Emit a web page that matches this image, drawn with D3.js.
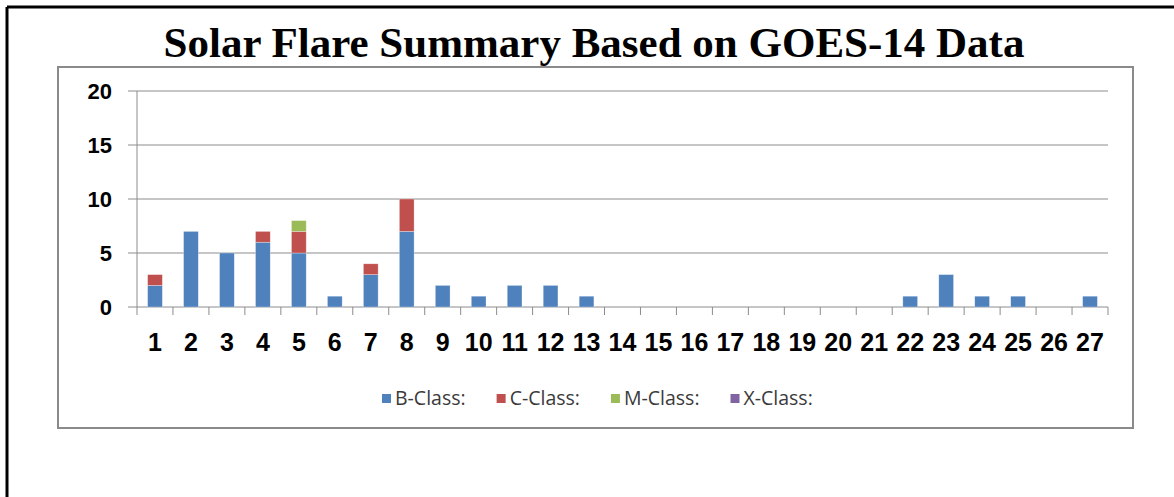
<!DOCTYPE html>
<html>
<head>
<meta charset="utf-8">
<script src="https://cdn.jsdelivr.net/npm/d3@7"></script>
<style>
  html, body { margin: 0; padding: 0; background: #fff; }
  svg { display: block; }
</style>
</head>
<body>
<svg id="chart" width="1174" height="497"></svg>
<script>
const categories = ["1","2","3","4","5","6","7","8","9","10","11","12","13","14","15","16","17","18","19","20","21","22","23","24","25","26","27"];
const bClass = [2,7,5,6,5,1,3,7,2,1,2,2,1,0,0,0,0,0,0,0,0,1,3,1,1,0,1];
const cClass = [1,0,0,1,2,0,1,3,0,0,0,0,0,0,0,0,0,0,0,0,0,0,0,0,0,0,0];
const mClass = [0,0,0,0,1,0,0,0,0,0,0,0,0,0,0,0,0,0,0,0,0,0,0,0,0,0,0];
const xClass = [0,0,0,0,0,0,0,0,0,0,0,0,0,0,0,0,0,0,0,0,0,0,0,0,0,0,0];
const seriesNames = ["B-Class:", "C-Class:", "M-Class:", "X-Class:"];
const seriesColors = ["#4F81BD", "#C0504D", "#9BBB59", "#8064A2"];
const yTicks = [0, 5, 10, 15, 20];
const title = "Solar Flare Summary Based on GOES-14 Data";

const svg = d3.select("#chart");

// outer black frame (left and top)
svg.append("line").attr("x1", 7).attr("y1", 7).attr("x2", 1174).attr("y2", 7)
  .attr("stroke", "#000").attr("stroke-width", 3);
svg.append("line").attr("x1", 7).attr("y1", 7).attr("x2", 7).attr("y2", 497)
  .attr("stroke", "#000").attr("stroke-width", 3);

// title
svg.append("text")
  .attr("x", 594).attr("y", 57)
  .attr("text-anchor", "middle")
  .attr("font-family", "'Liberation Serif', 'Times New Roman', serif")
  .attr("font-weight", "bold")
  .attr("font-size", 43)
  .attr("fill", "#000")
  .text(title);

// chart box
svg.append("rect").attr("x", 58).attr("y", 67).attr("width", 1075).attr("height", 361)
  .attr("fill", "#fff").attr("stroke", "#8a8a8a").attr("stroke-width", 2);

const x = d3.scaleBand().domain(categories).range([137, 1108]).padding(0);
const y = d3.scaleLinear().domain([0, 20]).range([307, 91]);

// gridlines with left tick stubs
svg.append("g").selectAll("line").data(yTicks).join("line")
  .attr("x1", 128).attr("x2", 1108)
  .attr("y1", d => y(d)).attr("y2", d => y(d))
  .attr("stroke", "#8c8c8c").attr("stroke-width", 1);

// y axis line
svg.append("line").attr("x1", 137).attr("x2", 137).attr("y1", y(20)).attr("y2", y(0))
  .attr("stroke", "#8c8c8c").attr("stroke-width", 1);

// y labels
svg.append("g").selectAll("text").data(yTicks).join("text")
  .attr("x", 112).attr("y", d => y(d))
  .attr("dy", "0.36em")
  .attr("text-anchor", "end")
  .attr("font-family", "'Liberation Sans', Arial, sans-serif")
  .attr("font-weight", "bold")
  .attr("font-size", 22)
  .attr("fill", "#000")
  .text(d => d);

// x ticks at band boundaries
const boundaries = categories.map(c => x(c)).concat([x(categories[categories.length - 1]) + x.bandwidth()]);
svg.append("g").selectAll("line").data(boundaries).join("line")
  .attr("x1", d => d).attr("x2", d => d)
  .attr("y1", y(0)).attr("y2", y(0) + 8)
  .attr("stroke", "#8c8c8c").attr("stroke-width", 1);

// x labels
svg.append("g").selectAll("text").data(categories).join("text")
  .attr("x", d => x(d) + x.bandwidth() / 2).attr("y", 351)
  .attr("text-anchor", "middle")
  .attr("font-family", "'Liberation Sans', Arial, sans-serif")
  .attr("font-weight", "bold")
  .attr("font-size", 25)
  .attr("fill", "#000")
  .text(d => d);

// stacked bars
const rows = categories.map((c, i) => ({ cat: c, b: bClass[i], c: cClass[i], m: mClass[i], x: xClass[i] }));
const stack = d3.stack().keys(["b", "c", "m", "x"]);
const stacked = stack(rows);
const barW = x.bandwidth() * 0.41;

svg.append("g").selectAll("g").data(stacked).join("g")
  .attr("fill", (d, i) => seriesColors[i])
  .selectAll("rect").data(d => d.filter(s => s[1] - s[0] > 0)).join("rect")
  .attr("x", d => x(d.data.cat) + (x.bandwidth() - barW) / 2)
  .attr("width", barW)
  .attr("y", d => y(d[1]))
  .attr("height", d => y(d[0]) - y(d[1]))
  .attr("stroke", "rgba(255,255,255,0.5)")
  .attr("stroke-width", 0.6);

// legend
const legend = svg.append("g");
let lx = 382;
seriesNames.forEach((name, i) => {
  legend.append("rect").attr("x", lx).attr("y", 394).attr("width", 9).attr("height", 9)
    .attr("fill", seriesColors[i]);
  const t = legend.append("text")
    .attr("x", lx + 13).attr("y", 404.5)
    .attr("font-family", "'Open Sans', 'Liberation Sans', sans-serif")
    .attr("font-size", 19.5)
    .attr("fill", "#3a3a3a")
    .text(name);
  lx += 13 + t.node().getComputedTextLength() + 31;
});
</script>
</body>
</html>
